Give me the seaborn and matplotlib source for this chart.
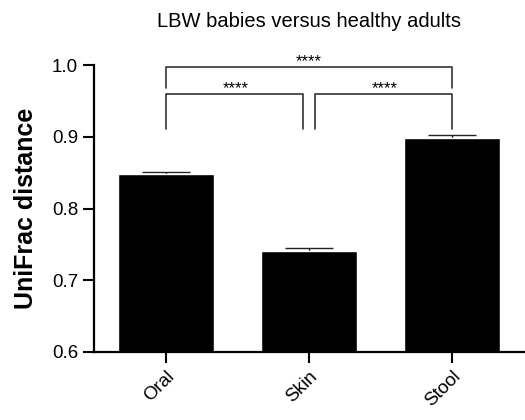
import matplotlib
matplotlib.use("Agg")
import matplotlib.pyplot as plt
import seaborn as sns
import pandas as pd

categories = ["Oral", "Skin", "Stool"]
means = [0.848, 0.741, 0.899]
sems = [0.003, 0.004, 0.003]
title = "LBW babies versus healthy adults"
ylabel = "UniFrac distance"
yticks = [0.6, 0.7, 0.8, 0.9, 1.0]
sig_label = "****"

sns.set_theme(style="ticks")
plt.rcParams["font.family"] = ["Liberation Sans", "DejaVu Sans"]
plt.rcParams["text.color"] = "black"
plt.rcParams["axes.labelcolor"] = "black"
plt.rcParams["xtick.color"] = "black"
plt.rcParams["ytick.color"] = "black"

df = pd.DataFrame({"site": categories, "dist": means})

fig = plt.figure(figsize=(5.25, 4.2), dpi=100)
ax = fig.add_axes([0.179, 0.162, 0.819, 0.683])

sns.barplot(data=df, x="site", y="dist", color="black", width=0.67,
            saturation=1, errorbar=None, ax=ax)
ax.errorbar(range(len(categories)), means, yerr=sems, fmt="none",
            ecolor="#222222", elinewidth=1.0, capsize=17, capthick=1.0,
            zorder=0.5)

ax.set_ylim(0.6, 1.0)
ax.set_xlim(-0.5, 2.5)
ax.set_yticks(yticks)
ax.set_yticklabels([f"{v:.1f}" for v in yticks], fontsize=13.5)
ax.set_xticks(range(len(categories)))
ax.set_xticklabels(categories, rotation=45, ha="right", rotation_mode="anchor",
                   fontsize=13.5)
ax.set_xlabel("")
ax.set_ylabel(ylabel, fontsize=18, fontweight="bold", labelpad=10)
ax.tick_params(axis="both", length=8, width=1.5, color="black",
               labelcolor="black")
for s in ["left", "bottom"]:
    ax.spines[s].set_linewidth(1.6)
    ax.spines[s].set_color("black")
sns.despine(ax=ax)

fig.text(0.588, 0.948, title, ha="center", va="center", fontsize=14.5,
         color="black")


def bracket(x1, x2, y, ylow, tx):
    ax.plot([x1, x1, x2, x2], [ylow, y, y, ylow], color="#333333", lw=1.2,
            clip_on=False)
    ax.text(tx, y + 0.001, sig_label, ha="center", va="baseline", fontsize=12,
            color="black", clip_on=False)


bracket(0.0, 0.958, 0.960, 0.911, 0.49)
bracket(1.042, 2.0, 0.960, 0.911, 1.53)
bracket(0.0, 2.0, 0.997, 0.968, 1.0)

fig.savefig("out.png", dpi=100)
